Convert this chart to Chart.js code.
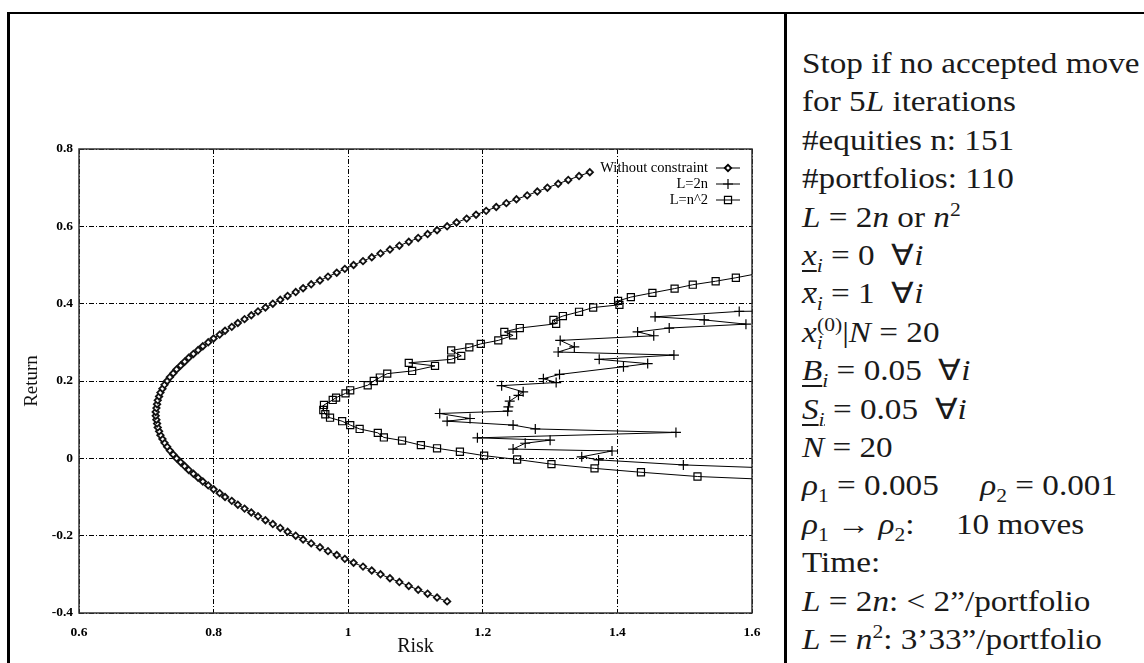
<!DOCTYPE html>
<html>
<head>
<meta charset="utf-8">
<script src="https://cdn.jsdelivr.net/npm/chart.js"></script>
<style>
  html, body { margin: 0; padding: 0; background: #fff; }
  body { width: 1144px; height: 663px; position: relative; overflow: hidden; }
  #wrap { position: absolute; left: 0; top: 0; width: 784px; height: 663px; }
  .rule { position: absolute; background: #000; }
  #notes {
    position: absolute; left: 802px; top: 44px;
    font-family: "Liberation Serif", serif; font-size: 29px; line-height: 38.4px;
    color: #1a1a1a; white-space: nowrap;
    transform: scaleX(1.145); transform-origin: 0 0;
  }
  #notes sub, #notes sup { font-size: 65%; line-height: 0; }
  .ul { text-decoration: underline; text-underline-offset: 5px; text-decoration-thickness: 1.5px; }
  .ov { position: relative; }
  .ov::before { content: ''; position: absolute; left: 2px; right: 0; top: 0.36em; height: 1.5px; background: #1a1a1a; }
</style>
</head>
<body>
<div id="wrap"><canvas id="grafico" width="784" height="663"></canvas></div>
<div class="rule" style="left:7px; top:12px; width:1137px; height:2px;"></div>
<div class="rule" style="left:7px; top:12px; width:3px; height:651px;"></div>
<div class="rule" style="left:784px; top:12px; width:2.5px; height:651px;"></div>
<div id="notes">
  <div>Stop if no accepted move</div>
  <div>for 5<i>L</i> iterations</div>
  <div>#equities n: 151</div>
  <div>#portfolios: 110</div>
  <div><i>L</i> = 2<i>n</i> or <i>n</i><sup>2</sup></div>
  <div><span class="ul"><i>x</i><sub><i>i</i></sub></span> = 0 &nbsp;∀<i>i</i></div>
  <div><span class="ov"><i>x</i></span><sub><i>i</i></sub> = 1 &nbsp;∀<i>i</i></div>
  <div><i>x</i><sub><i>i</i></sub><sup style="margin-left:-5px">(0)</sup>|<i>N</i> = 20</div>
  <div><span class="ul"><i>B</i><sub><i>i</i></sub></span> = 0.05 &nbsp;∀<i>i</i></div>
  <div><span class="ul"><i>S</i><sub><i>i</i></sub></span> = 0.05 &nbsp;∀<i>i</i></div>
  <div><i>N</i> = 20</div>
  <div><i>ρ</i><sub>1</sub> = 0.005 &nbsp;&nbsp;&nbsp; <i>ρ</i><sub>2</sub> = 0.001</div>
  <div><i>ρ</i><sub>1</sub> → <i>ρ</i><sub>2</sub>: &nbsp;&nbsp;&nbsp; 10 moves</div>
  <div>Time:</div>
  <div><i>L</i> = 2<i>n</i>: &lt; 2”/portfolio</div>
  <div><i>L</i> = <i>n</i><sup>2</sup>: 3’33”/portfolio</div>
</div>
<script>
const seriesLabels = ['Without constraint', 'L=2n', 'L=n^2'];
const xTickLabels = ['0.6', '0.8', '1', '1.2', '1.4', '1.6'];
const yTickLabels = ['-0.4', '-0.2', '0', '0.2', '0.4', '0.6', '0.8'];

// sem restricao: fronteira eficiente
const returnFree = [
  -0.37, -0.36, -0.35, -0.34, -0.33, -0.32, -0.31, -0.30, -0.29, -0.28,
  -0.27, -0.26, -0.25, -0.24, -0.23, -0.22, -0.21, -0.20, -0.19, -0.18,
  -0.17, -0.16, -0.15, -0.14, -0.13, -0.12, -0.11, -0.10, -0.09, -0.08,
  -0.07, -0.06, -0.05, -0.04, -0.03, -0.02, -0.01,
  0.00, 0.01, 0.02, 0.03, 0.04, 0.05, 0.06, 0.07, 0.08, 0.09,
  0.10, 0.11, 0.12, 0.13, 0.14, 0.15, 0.16, 0.17, 0.18, 0.19,
  0.20, 0.21, 0.22, 0.23, 0.24, 0.25, 0.26, 0.27, 0.28, 0.29,
  0.30, 0.31, 0.32, 0.33, 0.34, 0.35, 0.36, 0.37, 0.38, 0.39,
  0.40, 0.41, 0.42, 0.43, 0.44, 0.45, 0.46, 0.47, 0.48, 0.49,
  0.50, 0.51, 0.52, 0.53, 0.54, 0.55, 0.56, 0.57, 0.58, 0.59,
  0.60, 0.61, 0.62, 0.63, 0.64, 0.65, 0.66, 0.67, 0.68, 0.69,
  0.70, 0.71, 0.72, 0.73, 0.74
];
const riskFree = [
  1.147, 1.132, 1.118, 1.104, 1.090, 1.076, 1.062, 1.048, 1.035, 1.022,
  1.008, 0.995, 0.983, 0.970, 0.958, 0.945, 0.933, 0.922, 0.910, 0.899,
  0.888, 0.877, 0.866, 0.856, 0.846, 0.836, 0.827, 0.817, 0.809, 0.800,
  0.792, 0.784, 0.777, 0.770, 0.763, 0.757, 0.751,
  0.745, 0.740, 0.735, 0.731, 0.727, 0.724, 0.721, 0.719, 0.717, 0.716,
  0.715, 0.714, 0.714, 0.715, 0.716, 0.717, 0.719, 0.721, 0.724, 0.727,
  0.731, 0.735, 0.740, 0.745, 0.751, 0.757, 0.763, 0.770, 0.777, 0.784,
  0.792, 0.800, 0.809, 0.817, 0.827, 0.836, 0.846, 0.856, 0.866, 0.877,
  0.888, 0.899, 0.910, 0.922, 0.933, 0.945, 0.958, 0.970, 0.983, 0.995,
  1.008, 1.022, 1.035, 1.048, 1.062, 1.076, 1.090, 1.104, 1.118, 1.132,
  1.147, 1.161, 1.176, 1.190, 1.205, 1.220, 1.235, 1.250, 1.266, 1.281,
  1.296, 1.312, 1.327, 1.343, 1.359
];

// L = 2n
const risk2n = [
  1.66, 1.581, 1.456, 1.529, 1.591, 1.477, 1.430, 1.454, 1.315, 1.336,
  1.312, 1.484, 1.373, 1.445, 1.409, 1.314, 1.290, 1.309, 1.228, 1.260,
  1.253, 1.240, 1.238, 1.237, 1.136, 1.181, 1.147, 1.245, 1.278, 1.487,
  1.192, 1.300, 1.263, 1.245, 1.392, 1.347, 1.372, 1.498, 1.66
];
const return2n = [
  0.382, 0.380, 0.366, 0.358, 0.347, 0.337, 0.327, 0.317, 0.305, 0.288,
  0.275, 0.267, 0.256, 0.245, 0.237, 0.217, 0.206, 0.196, 0.188, 0.172,
  0.163, 0.148, 0.133, 0.122, 0.116, 0.103, 0.096, 0.086, 0.076, 0.067,
  0.053, 0.047, 0.039, 0.024, 0.019, 0.004, -0.004, -0.017, -0.027
];

// L = n^2
const riskN2 = [
  1.63, 1.576, 1.546, 1.512, 1.485, 1.452, 1.420, 1.401, 1.403, 1.364,
  1.343, 1.319, 1.305, 1.309, 1.255, 1.232, 1.245, 1.223, 1.197, 1.180,
  1.153, 1.168, 1.153, 1.090, 1.129, 1.095, 1.058, 1.047, 1.038, 1.029,
  1.003, 0.996, 0.982, 0.977, 0.964, 0.963, 0.966, 0.973, 0.991, 1.003,
  1.017, 1.044, 1.053, 1.080, 1.108, 1.132, 1.166, 1.202, 1.251, 1.302,
  1.366, 1.435, 1.519, 1.63
];
const returnN2 = [
  0.485, 0.467, 0.458, 0.449, 0.439, 0.428, 0.417, 0.407, 0.397, 0.390,
  0.379, 0.368, 0.358, 0.348, 0.337, 0.327, 0.318, 0.305, 0.296, 0.287,
  0.279, 0.265, 0.256, 0.247, 0.239, 0.226, 0.219, 0.209, 0.200, 0.189,
  0.176, 0.168, 0.157, 0.151, 0.138, 0.125, 0.114, 0.105, 0.096, 0.086,
  0.076, 0.066, 0.054, 0.046, 0.034, 0.026, 0.017, 0.007, -0.003, -0.015,
  -0.026, -0.036, -0.047, -0.055
];

function pares(xs, ys) {
  return xs.map((x, i) => ({ x, y: ys[i] }));
}

const serif = '"Liberation Serif", "Times New Roman", serif';
Chart.defaults.font.family = serif;
Chart.defaults.color = '#000';

// moldura do grafico + legenda no estilo gnuplot
const molduraPlugin = {
  id: 'moldura',
  beforeDatasetsDraw(chart) {
    const { ctx, chartArea: a } = chart;
    ctx.save();
    ctx.strokeStyle = '#333';
    ctx.lineWidth = 1.5;
    ctx.strokeRect(a.left, a.top, a.right - a.left, a.bottom - a.top);
    ctx.restore();
  },
  afterDraw(chart) {
    const { ctx, chartArea: a } = chart;
    ctx.save();
    ctx.font = '14.5px ' + serif;
    ctx.textAlign = 'right';
    ctx.textBaseline = 'middle';
    chart.data.datasets.forEach((ds, i) => {
      const y = a.top + 19 + i * 16;
      const xr = a.right - 44;
      ctx.fillStyle = '#000';
      ctx.fillText(ds.label, xr, y);
      ctx.strokeStyle = '#000';
      ctx.lineWidth = 1;
      ctx.beginPath();
      ctx.moveTo(xr + 8, y);
      ctx.lineTo(xr + 32, y);
      ctx.stroke();
      ctx.fillStyle = ds.pointBackgroundColor;
      ctx.lineWidth = ds.pointBorderWidth;
      Chart.helpers.drawPoint(ctx, {
        pointStyle: ds.pointStyle, radius: ds.pointRadius, rotation: 0, borderWidth: ds.pointBorderWidth
      }, xr + 20, y);
    });
    ctx.restore();
  }
};

const tickFont = { family: serif, size: 13.5, weight: 'bold' };

new Chart(document.getElementById('grafico'), {
  type: 'scatter',
  data: {
    datasets: [
      {
        label: seriesLabels[0],
        data: pares(riskFree, returnFree),
        showLine: true,
        borderColor: '#000',
        borderWidth: 1,
        pointStyle: 'rectRot',
        pointRadius: 3.2,
        pointBorderWidth: 1.8,
        pointBorderColor: '#111',
        pointBackgroundColor: '#fff'
      },
      {
        label: seriesLabels[1],
        data: pares(risk2n, return2n),
        showLine: true,
        borderColor: '#000',
        borderWidth: 1,
        pointStyle: 'cross',
        pointRadius: 5,
        pointBorderWidth: 1.2,
        pointBorderColor: '#000',
        pointBackgroundColor: 'rgba(0,0,0,0)'
      },
      {
        label: seriesLabels[2],
        data: pares(riskN2, returnN2),
        showLine: true,
        borderColor: '#000',
        borderWidth: 1,
        pointStyle: 'rect',
        pointRadius: 5,
        pointBorderWidth: 1.2,
        pointBorderColor: '#000',
        pointBackgroundColor: 'rgba(255,255,255,0)'
      }
    ]
  },
  options: {
    responsive: false,
    animation: false,
    layout: { padding: { top: 149, right: 32, bottom: 0, left: 0 } },
    plugins: {
      legend: { display: false },
      tooltip: { enabled: false }
    },
    scales: {
      x: {
        type: 'linear',
        min: 0.6,
        max: 1.6,
        afterFit: scale => { scale.height = 50; },
        ticks: {
          stepSize: 0.2,
          padding: 11,
          font: tickFont,
          color: '#000',
          maxRotation: 0,
          callback: (value, index) => xTickLabels[index]
        },
        grid: { color: '#000', lineWidth: 1, drawTicks: false },
        border: { display: false, dash: [5, 2, 1, 2] },
        title: { display: true, text: 'Risk', font: { family: serif, size: 20 }, color: '#111', padding: { top: 0, bottom: 4 } }
      },
      y: {
        type: 'linear',
        min: -0.4,
        max: 0.8,
        afterFit: scale => { scale.width = 79; },
        ticks: {
          stepSize: 0.2,
          padding: 6,
          font: tickFont,
          color: '#000',
          callback: (value, index) => yTickLabels[index]
        },
        grid: { color: '#000', lineWidth: 1, drawTicks: false },
        border: { display: false, dash: [5, 2, 1, 2] },
        title: { display: true, text: 'Return', font: { family: serif, size: 19 }, color: '#111', padding: { top: 21, bottom: 0 } }
      }
    }
  },
  plugins: [molduraPlugin]
});
</script>
</body>
</html>
